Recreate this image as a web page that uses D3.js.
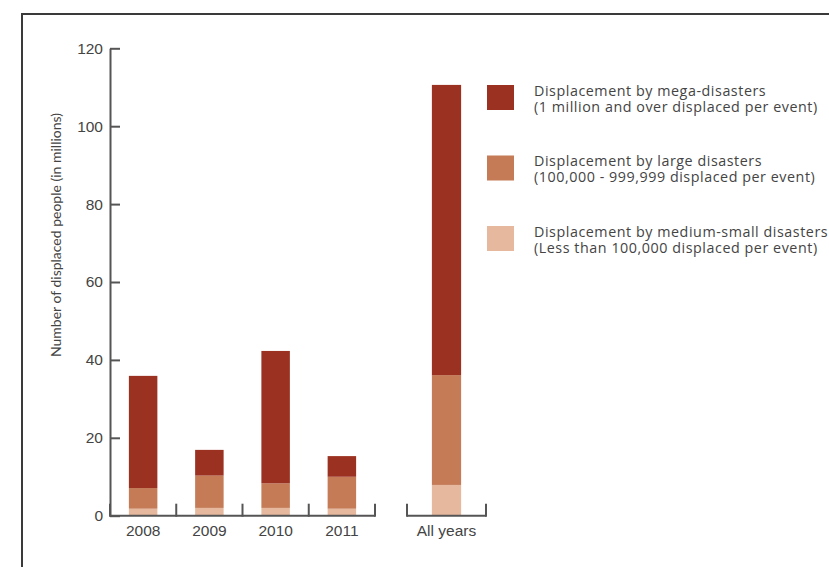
<!DOCTYPE html>
<html>
<head>
<meta charset="utf-8">
<script src="https://cdn.jsdelivr.net/npm/d3@7"></script>
<style>
  body { margin: 0; background: #fff; }
  svg { display: block; font-family: Lato, "Noto Sans", sans-serif; }
</style>
</head>
<body>
<div id="chart"></div>
<script>
// data (millions of displaced people)
var years = ["2008", "2009", "2010", "2011"]
var allLabel = "All years"
var smallVals = [1.8, 2.0, 2.0, 1.8]
var largeVals = [5.3, 8.3, 6.3, 8.2]
var megaVals = [28.8, 6.6, 34.0, 5.3]
var allSmall = 7.9
var allLarge = 28.2
var allMega = 74.5
var yTicks = [0, 20, 40, 60, 80, 100, 120]

var seriesNames = ["small", "large", "mega"]
var legendLines = [
  ["Displacement by mega-disasters", "(1 million and over displaced per event)"],
  ["Displacement by large disasters", "(100,000 - 999,999 displaced per event)"],
  ["Displacement by medium-small disasters", "(Less than 100,000 displaced per event)"]
]
var colors = { mega: "#9b3121", large: "#c47b56", small: "#e6b99e" }

var width = 829
var height = 567

var svg = d3.select("#chart")
  .append("svg")
  .attr("width", width)
  .attr("height", height)

// frame (only top and left edges are visible in the reference)
svg.append("path")
  .attr("d", `M22,${height} V14 H${width}`)
  .style("fill", "none")
  .style("stroke", "#3a3a3a")
  .style("stroke-width", 2)

var yScale = d3.scaleLinear()
  .domain([0, 120])
  .range([515.7, 48.3])

var xScale = d3.scaleBand()
  .domain(years)
  .range([110, 375])
  .paddingInner(0.57)
  .paddingOuter(0.285)

var xAll = d3.scaleBand()
  .domain([allLabel])
  .range([407, 486])
  .paddingInner(0.63)
  .paddingOuter(0.315)

// build stacked rows from the arrays
var rows = years.map((y, i) => ({ key: y, small: smallVals[i], large: largeVals[i], mega: megaVals[i], x: xScale(y), w: xScale.bandwidth() }))
rows.push({ key: allLabel, small: allSmall, large: allLarge, mega: allMega, x: xAll(allLabel), w: xAll.bandwidth() })

var stacked = d3.stack().keys(seriesNames)(rows)

var barsG = svg.append("g").attr("class", "bars")
barsG.selectAll("g")
  .data(stacked)
  .enter()
  .append("g")
  .style("fill", d => colors[d.key])
  .selectAll("rect")
  .data(d => d)
  .enter()
  .append("rect")
  .attr("x", d => d.data.x)
  .attr("width", d => d.data.w)
  .attr("y", d => yScale(d[1]))
  .attr("height", d => yScale(d[0]) - yScale(d[1]))

// Y axis, ticks pointing inward
var yAxis = d3.axisLeft(yScale)
  .tickValues(yTicks)
  .tickSize(-10)
  .tickSizeOuter(0)
  .tickPadding(7)

var yG = svg.append("g")
  .attr("transform", "translate(110,0)")
  .call(yAxis)
yG.select(".domain").style("stroke", "#555").style("stroke-width", 2)
yG.selectAll(".tick line").style("stroke", "#555").style("stroke-width", 2)
yG.selectAll(".tick text")
  .style("font-size", "15.5px")
  .style("fill", "#444")

svg.append("text")
  .attr("text-anchor", "middle")
  .attr("transform", "translate(61,235) rotate(-90)")
  .style("font-size", "14px")
  .style("fill", "#444")
  .text("Number of displaced people (in millions)")

// X axis: baseline with ticks at band edges, labels at band centres
function xAxisSegment(scale) {
  var r = scale.range()
  var edges = d3.range(scale.domain().length + 1).map(i => r[0] + i * scale.step())
  var g = svg.append("g").attr("transform", `translate(0,${yScale(0)})`)
  g.append("line")
    .attr("x1", r[0]).attr("x2", r[1])
    .style("stroke", "#555").style("stroke-width", 2)
  g.selectAll(".edge")
    .data(edges)
    .enter()
    .append("line")
    .attr("x1", d => d).attr("x2", d => d)
    .attr("y1", 1).attr("y2", -12)
    .style("stroke", "#555").style("stroke-width", 2)
  var ax = d3.axisBottom(scale).tickSize(0).tickPadding(9)
  var ag = g.append("g").call(ax)
  ag.select(".domain").remove()
  ag.selectAll(".tick text").style("font-size", "15.5px").style("fill", "#444")
}
xAxisSegment(xScale)
xAxisSegment(xAll)

// legend
var legendOrder = ["mega", "large", "small"]
var legend = svg.append("g").attr("class", "legend")
var items = legend.selectAll("g")
  .data(legendOrder)
  .enter()
  .append("g")
  .attr("transform", (d, i) => `translate(487,${85 + i * 70.5})`)

items.append("rect")
  .attr("width", 27)
  .attr("height", 25)
  .style("fill", d => colors[d])

items.each(function(d, i) {
  d3.select(this).selectAll("text")
    .data(legendLines[i])
    .enter()
    .append("text")
    .attr("x", 47)
    .attr("y", (l, j) => 10.5 + j * 16)
    .style("font-family", "'Open Sans', Lato, sans-serif")
    .style("font-size", "14.3px")
    .style("letter-spacing", "0.55px")
    .style("fill", "#444")
    .text(l => l)
})
</script>
</body>
</html>
